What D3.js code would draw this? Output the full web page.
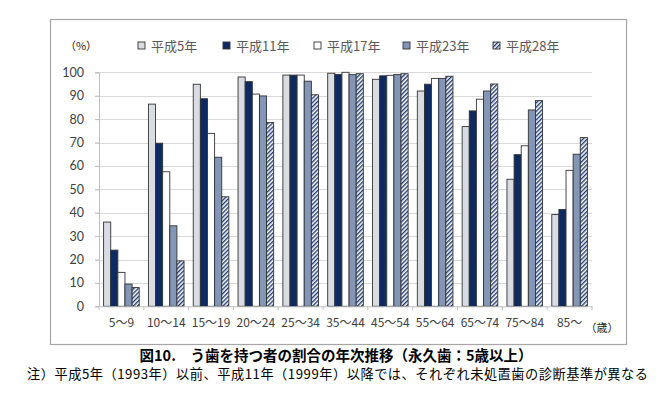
<!DOCTYPE html>
<html>
<head>
<meta charset="utf-8">
<script src="https://cdn.jsdelivr.net/npm/d3@7"></script>
<style>
    body { margin: 0; background: #fff; }
    svg { display: block; }
</style>
</head>
<body>
<div id="chart"></div>
<script>
// data
const ageGroups = ["5〜9", "10〜14", "15〜19", "20〜24", "25〜34", "35〜44", "45〜54", "55〜64", "65〜74", "75〜84", "85〜"];
const surveyYears = ["平成5年", "平成11年", "平成17年", "平成23年", "平成28年"];
const h5 = [36, 86.4, 94.9, 98.0, 98.8, 99.6, 97.0, 92.0, 76.8, 54.3, 39.2];
const h11 = [24, 69.7, 88.7, 96.0, 98.8, 99.1, 98.5, 94.9, 83.5, 64.8, 41.4];
const h17 = [14.5, 57.5, 73.9, 90.7, 98.8, 100, 98.7, 97.4, 88.5, 68.6, 58.1];
const h23 = [9.5, 34.4, 63.7, 89.9, 96.2, 99.0, 99.1, 97.4, 92.0, 83.9, 65.0];
const h28 = [8, 19.4, 46.8, 78.5, 90.4, 99.4, 99.4, 98.3, 95.0, 87.9, 72.1];
const yTicks = [0, 10, 20, 30, 40, 50, 60, 70, 80, 90, 100];

const seriesValues = [h5, h11, h17, h23, h28];
const rows = ageGroups.map((g, i) => ({
    group: g,
    values: surveyYears.map((s, j) => ({ series: s, value: seriesValues[j][i] }))
}));

const width = 672, height = 396;
const plot = { left: 99, right: 592, top: 72.3, bottom: 306.3 };
const fills = ["#d9dce3", "#0d2a63", "#ffffff", "#8496b8", "url(#hatch)"];
const jp = "'Noto Sans CJK JP', 'Noto Sans', sans-serif";

const svg = d3.select("#chart")
    .append("svg")
    .attr("width", width)
    .attr("height", height);

// hatch pattern
const defs = svg.append("defs");
const pat = defs.append("pattern")
    .attr("id", "hatch")
    .attr("patternUnits", "userSpaceOnUse")
    .attr("width", 3)
    .attr("height", 3)
    .attr("patternTransform", "rotate(45)");
pat.append("rect").attr("width", 3).attr("height", 3).attr("fill", "#fff");
pat.append("rect").attr("width", 1.4).attr("height", 3).attr("fill", "#1f3a70");

// frame
svg.append("rect")
    .attr("x", 50.5).attr("y", 19.5)
    .attr("width", 576).attr("height", 325)
    .attr("fill", "#fff")
    .attr("stroke", "#a6a6a6")
    .attr("stroke-width", 1.2);

// scales
const x0 = d3.scaleBand().domain(ageGroups).range([plot.left, plot.right]).padding(0);
const x1 = d3.scaleBand().domain(surveyYears).range([4.6, x0.bandwidth() - 4.6]).padding(0);
const y = d3.scaleLinear().domain([0, 100]).range([plot.bottom, plot.top]);

// gridlines
svg.append("g")
    .selectAll("line")
    .data(yTicks.filter(d => d > 0))
    .join("line")
    .attr("x1", plot.left - 4).attr("x2", plot.right)
    .attr("y1", d => Math.round(y(d)) + 0.5).attr("y2", d => Math.round(y(d)) + 0.5)
    .attr("stroke", "#d9d9d9")
    .attr("stroke-width", 1);

// y axis
const yAxis = svg.append("g")
    .attr("transform", `translate(${plot.left},0)`)
    .call(d3.axisLeft(y).tickValues(yTicks).tickSize(4).tickPadding(11));
yAxis.select(".domain").attr("stroke", "#bfbfbf");
yAxis.selectAll(".tick line").attr("stroke", "#bfbfbf");
yAxis.selectAll(".tick text")
    .attr("fill", "#404040")
    .style("font-family", "Lato, 'Liberation Sans', sans-serif")
    .style("font-size", "12.5px");

// bars
const groups = svg.append("g")
    .selectAll("g")
    .data(rows)
    .join("g")
    .attr("transform", d => `translate(${x0(d.group)},0)`);

groups.selectAll("rect")
    .data(d => d.values)
    .join("rect")
    .attr("x", d => x1(d.series))
    .attr("y", d => y(d.value))
    .attr("width", x1.bandwidth())
    .attr("height", d => y(0) - y(d.value))
    .attr("fill", (d, i) => fills[i])
    .attr("stroke", "#333")
    .attr("stroke-width", 0.9);

// x axis
const xAxis = svg.append("g")
    .attr("transform", `translate(0,${plot.bottom})`)
    .call(d3.axisBottom(x0).tickSize(0).tickPadding(12));
xAxis.select(".domain").attr("stroke", "#bfbfbf");
xAxis.selectAll(".tick text")
    .attr("fill", "#404040")
    .style("font-family", jp)
    .style("font-size", "12px");
xAxis.selectAll("line.sep")
    .data(ageGroups.map(g => x0(g)).concat([plot.right]))
    .join("line")
    .attr("class", "sep")
    .attr("x1", d => d).attr("x2", d => d)
    .attr("y1", 0).attr("y2", 4)
    .attr("stroke", "#bfbfbf");

// unit labels
svg.append("text")
    .attr("x", 81).attr("y", 50)
    .attr("text-anchor", "middle")
    .attr("fill", "#262626")
    .style("font-family", jp)
    .style("font-size", "11px")
    .text("（%）");

svg.append("text")
    .attr("x", 602).attr("y", 332)
    .attr("text-anchor", "middle")
    .attr("fill", "#262626")
    .style("font-family", jp)
    .style("font-size", "11px")
    .text("（歳）");

// legend
const legendX = [138, 223, 314, 403, 493];
const legend = svg.append("g")
    .selectAll("g")
    .data(surveyYears)
    .join("g")
    .attr("transform", (d, i) => `translate(${legendX[i]},42)`);
legend.append("rect")
    .attr("width", 7).attr("height", 7)
    .attr("fill", (d, i) => fills[i])
    .attr("stroke", "#333")
    .attr("stroke-width", 0.9);
legend.append("text")
    .attr("x", 13).attr("y", 8.5)
    .attr("fill", "#595959")
    .style("font-family", jp)
    .style("font-size", "13px")
    .text(d => d);

// captions
svg.append("text")
    .attr("x", 336).attr("y", 361)
    .attr("text-anchor", "middle")
    .attr("fill", "#000")
    .style("font-family", jp)
    .style("font-weight", "bold")
    .style("font-size", "14.5px")
    .text("図10.　う歯を持つ者の割合の年次推移（永久歯：5歳以上）");

svg.append("text")
    .attr("x", 27).attr("y", 378.5)
    .attr("fill", "#000")
    .attr("textLength", 621)
    .attr("lengthAdjust", "spacing")
    .style("font-family", jp)
    .style("font-size", "13.2px")
    .text("注）平成5年（1993年）以前、平成11年（1999年）以降では、それぞれ未処置歯の診断基準が異なる");
</script>
</body>
</html>
